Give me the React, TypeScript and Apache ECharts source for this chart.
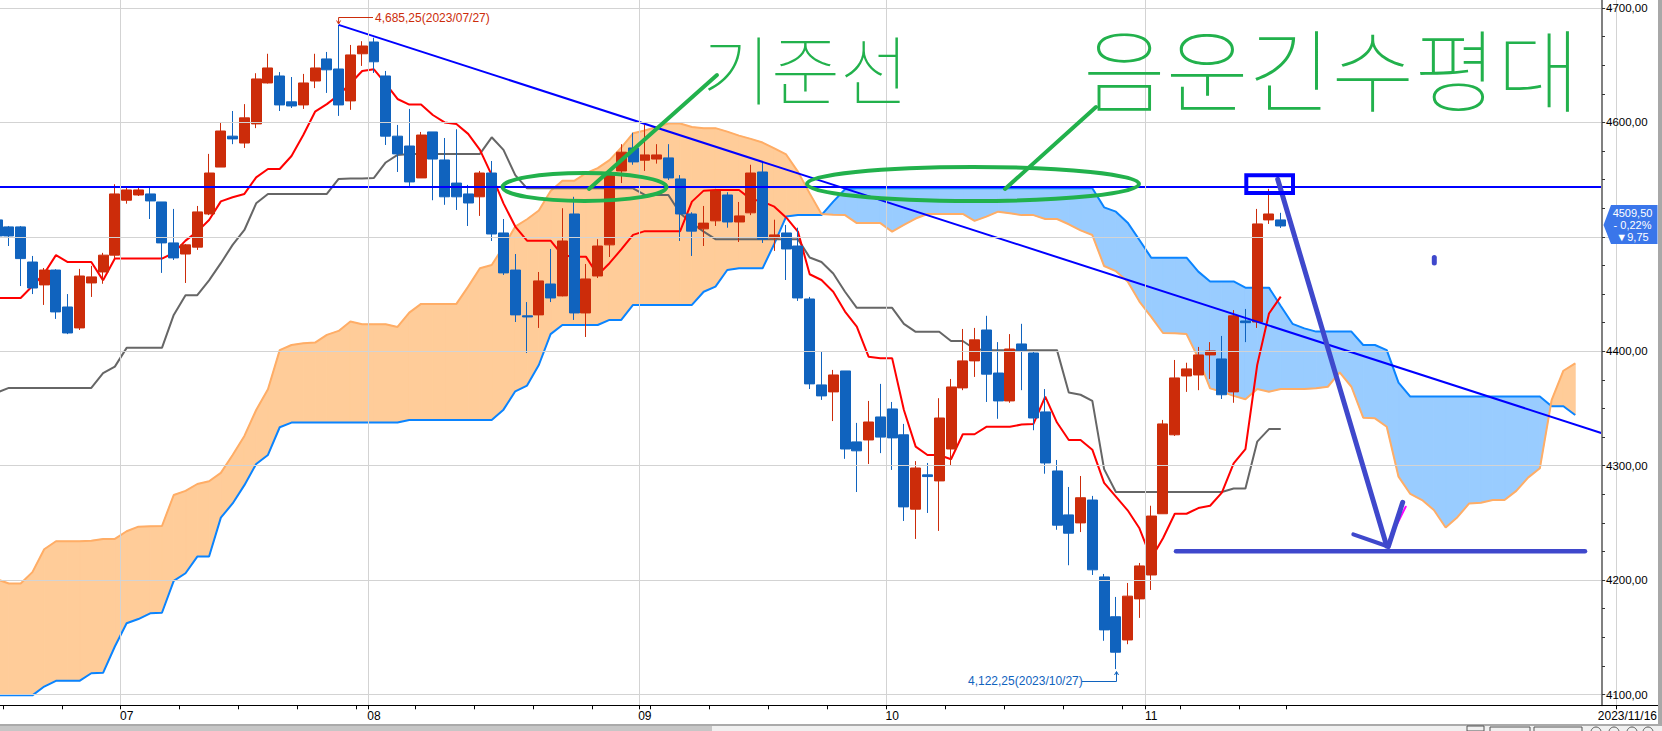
import React, { useEffect, useRef } from "react";
import * as echarts from "echarts";

const highs = [4515,4509.5,4509.5,4483.3,4472.8,4471.7,4450,4472,4474.6,4486,4546,4544,4544,4544,4530.5,4524.4,4493.8,4527,4572.5,4600.4,4610,4616,4643,4660,4644,4639.7,4642.4,4660,4661.6,4685.25,4667.7,4671,4674,4645,4597.8,4611.8,4591.7,4591.7,4586.4,4594,4545.4,4557.6,4566.3,4515.6,4485,4443,4469.3,4489.4,4525,4535,4476.3,4498,4557,4581,4591,4598,4581,4581,4554,4521.5,4527,4542,4539,4530.5,4563,4566.3,4515,4510.4,4508,4447.5,4399.4,4383.7,4382.8,4337.4,4356.6,4371.5,4355.7,4336.5,4304,4302.4,4359,4375.8,4419.5,4420.4,4431,4408,4415,4424,4399.4,4367,4305,4281.4,4291,4273.6,4205.4,4185.3,4197.5,4215,4265,4340,4392.4,4390,4403.8,4408,4413.4,4436,4437,4524.4,4542,4521];
const lows = [4500,4492,4457,4450,4440.5,4428.3,4415,4418.6,4447.5,4459,4481.3,4529,4535.7,4515.6,4468.5,4479.8,4459.7,4488.6,4519,4561,4581,4577.7,4595,4634,4610,4612.6,4611.8,4630,4625.8,4605.7,4611,4649.4,4643.2,4580.3,4556.7,4544.5,4551.5,4532,4528,4523.5,4509.5,4518.3,4496.4,4466.7,4425.6,4398.5,4420.4,4443,4448,4427.4,4412.5,4464,4482.4,4547,4563,4557.6,4564,4549.7,4496.4,4483.3,4492,4509.5,4508,4495.5,4519,4494.7,4487.7,4462.3,4444,4367,4357.5,4339,4306,4277,4301.5,4311,4296.3,4251.7,4236,4258.7,4243,4299.8,4366,4377.6,4355.7,4341,4355,4366,4331,4293,4244,4213,4242,4204.5,4147,4122.25,4144,4167,4191.4,4258,4326,4364.5,4366,4375.8,4358.3,4355,4408,4420.4,4511.3,4507.8];
const opens = [4514.8,4508.7,4508.7,4478,4458,4471,4438.7,4420.4,4459.7,4469.3,4484,4532,4536.6,4537.5,4530.5,4494.7,4485,4491,4520,4561,4588,4582,4598.7,4634.5,4640.6,4618,4615.3,4636.2,4655.5,4646.7,4618.8,4660,4670.3,4640.6,4588,4579.4,4551.5,4591.7,4567.2,4547,4537.5,4535,4555.8,4503.4,4471,4431,4431.8,4458.8,4448.4,4520,4433.5,4465.8,4493,4557.6,4577.7,4567,4568,4569,4550.6,4520,4507,4514,4536.6,4513,4521,4556.7,4499,4503.4,4492,4445.7,4370.6,4364.5,4382.8,4320.8,4322.5,4342.6,4349.6,4327,4262,4292,4286.7,4314.6,4368,4391.6,4418.6,4381,4356.6,4406.4,4398.5,4347,4295.4,4257,4250,4270,4202.8,4168,4147.7,4183.6,4204.5,4258,4327,4378.4,4379.3,4396.8,4393.3,4364.5,4426.5,4425.6,4514.8,4514.8];
const closes = [4500.8,4500.8,4481,4455.3,4471,4434.4,4416,4465.8,4465,4484,4537.5,4541,4541,4531.4,4494.7,4481.6,4493,4521.8,4555.8,4592.5,4585.6,4604,4638,4647.6,4615.3,4614.4,4634.5,4647.6,4646,4615.3,4659,4666.8,4653,4588,4572.5,4548,4589,4568,4535,4535,4529.6,4555.8,4502.5,4468.5,4431.8,4430,4461.5,4446.6,4496.4,4433.5,4463.2,4492,4554,4574,4565.5,4571.6,4571.6,4551.5,4520,4505,4512,4540,4513,4518.3,4555.8,4498,4501.7,4489.4,4446.6,4371.5,4361,4379.3,4314.6,4313,4338.2,4325,4324.3,4264,4298,4290.5,4341.7,4368.8,4391.6,4410,4380,4356.6,4402,4401,4341.7,4302.4,4248,4241,4272,4209,4156.5,4137,4186,4212.4,4256,4336.5,4376.7,4384.6,4396.8,4400.3,4362,4431,4425,4511.3,4520,4509.5];

const tenkan = [4446.6,4446.6,4446.6,4457,4468,4484,4478,4478,4478,4462,4481,4481,4481,4481,4481,4486,4496.7,4504.6,4514.8,4531,4534.6,4537.5,4552,4559.3,4559.3,4570.7,4589,4609.4,4616,4624,4634,4645,4646.4,4634,4620.5,4615.6,4615.6,4606.5,4600,4598.7,4590,4576,4554,4529.3,4509,4496.7,4496.7,4496.7,4484,4482.7,4482.7,4466.7,4477,4489,4501.7,4505,4505,4505,4505,4530.8,4540.4,4541,4541,4541,4533,4530.8,4526.4,4517,4504.6,4467.3,4462.3,4452,4434.7,4421.6,4395.3,4394,4394,4348.7,4316.7,4309.4,4309.4,4305.6,4327.5,4327.5,4334,4334,4334,4336,4336.5,4360.4,4337.7,4322.5,4322.5,4314,4285,4273,4261,4245.3,4219,4236.6,4258,4258,4263,4265,4276.5,4302,4314.4,4388,4433,4447.8];
const kijun = [4364,4368,4368,4368,4368,4368,4368,4368,4368,4380.8,4386.6,4403,4403,4403,4403,4431.8,4449,4449,4462,4477,4493,4506,4529.3,4537.5,4537.5,4537.5,4537.5,4537.5,4537.5,4550.6,4551,4551,4551.5,4565,4571.6,4572.5,4572.5,4572.5,4572.5,4572.5,4572.5,4572.5,4587,4576,4554,4542.4,4542.4,4542.4,4542.4,4542.4,4542.4,4542.4,4542.4,4542.4,4542.4,4536.6,4536.6,4536.6,4520.6,4512,4504.6,4498,4498,4498,4498,4498,4498,4498,4498,4482,4478,4468,4452,4438,4438,4438,4438,4424,4417,4417,4417,4409,4409,4402,4401,4401,4401,4401,4401,4401,4401,4364,4362,4356.6,4297,4277,4277,4277,4277,4277,4277,4277,4277,4277,4277,4280,4280,4321,4332,4332];
const senkouA = [4200.7,4197,4197,4207,4227,4234,4234,4234,4234.5,4236,4236,4242.7,4246.7,4247,4247.3,4274.4,4278,4284,4286.4,4293.7,4309.4,4326,4348.7,4366.8,4401,4405.5,4407,4407.6,4414.3,4417.8,4426,4423.6,4423.6,4423.6,4421.3,4433.8,4441.4,4441.4,4441.4,4441.4,4456.5,4472.5,4475.4,4491.5,4509,4515.4,4523,4540,4549,4549,4555.6,4560,4567,4578,4590.5,4593,4596,4599,4599,4596,4595,4595,4592,4588.5,4585.6,4582.4,4577.4,4572,4557,4538,4520,4519.4,4519,4512,4512,4512,4504.6,4510.4,4516,4520,4520,4520,4520,4514,4517.7,4522,4520.6,4519,4519,4515.6,4515.6,4511,4505.7,4501.6,4474.5,4470,4461,4443.4,4430,4416,4415.7,4415,4394,4367.6,4364.7,4361,4358,4367,4364.7,4367,4367,4367,4367.6,4369,4381.6,4369,4342,4341.4,4334,4290.4,4275.3,4270,4261.3,4246,4255,4267,4267.7,4270,4270,4278,4289.6,4297.7,4357.4,4383,4389.5];
const senkouB = [4099.3,4099.3,4099.3,4099.3,4107,4112,4112,4112,4118.6,4119,4142,4162.3,4166,4171,4171.5,4199.3,4206,4220.6,4220.6,4254.6,4267,4283,4301.5,4309.4,4333.6,4337.7,4337.7,4337.7,4337.7,4337.7,4337.7,4337.7,4337.7,4337.7,4337.7,4340,4340,4340,4340,4340,4340,4340,4340,4349,4365,4370,4388,4415,4423,4423,4423,4423,4427.4,4427.4,4440.5,4440.5,4440.5,4440.5,4440.5,4440.5,4452,4456.5,4471,4472.5,4472.5,4472.5,4494,4517.7,4519,4519,4519,4530.8,4541.6,4542.4,4542.4,4542.4,4542.4,4542.4,4542.4,4542.4,4542.4,4542.4,4542.4,4542.4,4542.4,4542.4,4542.4,4542.4,4542.4,4542.4,4542.4,4542.4,4542.4,4542.4,4525.8,4522,4512.4,4497.3,4481.8,4481.8,4481.8,4481.8,4469.6,4461,4461,4461,4455.6,4455.6,4455.6,4439.6,4424,4420,4417.2,4417.2,4417.2,4417.2,4405.5,4405.5,4401,4372.6,4360.4,4360.4,4360.4,4360.4,4360.4,4360.4,4360.4,4360.4,4360.4,4360.4,4360.4,4360.4,4352,4352,4344.3];

const monthLabels: Record<number, string> = { 11: "07", 32: "08", 55: "09", 76: "10", 98: "11" };
const weekTicks = [1,6,11,16,21,26,31,32,36,41,46,51,55,56,61,66,71,76,81,86,91,96,98,101,106,110];
const priceLabels = [4100,4200,4300,4400,4600,4700];
const priceGrid = [4100,4200,4300,4400,4500,4600,4700];
const priceTicks = [4100,4125,4150,4175,4200,4225,4250,4275,4300,4325,4350,4375,4400,4425,4450,4475,4500,4525,4550,4575,4600,4625,4650,4675,4700];
const resistance = 4543.6;
const trendStart = { bar: 29, value: 4685.25 };
const trendEnd = { bar: 137, value: 4326 };
const BAR_SLOTS = 138;

const RED = "#CC2C0A", BLUE = "#1063BE", GREEN = "#22B14C", PURPLE = "#3F48CC";
const sans = '"Liberation Sans",Arial,sans-serif';
const hand = '"Noto Sans CJK KR"';
const categories = Array.from({ length: BAR_SLOTS }, (_, i) => monthLabels[i] ?? String(i));
const cloudData = senkouA.slice(0, -1).map((a, i) => [i, a, senkouB[i], senkouA[i + 1], senkouB[i + 1]]);

function cloudItem(_: any, api: any) {
  const i = api.value(0);
  const a0 = api.coord([i, api.value(1)]), b0 = api.coord([i, api.value(2)]);
  const a1 = api.coord([i + 1, api.value(3)]), b1 = api.coord([i + 1, api.value(4)]);
  const d0 = api.value(1) - api.value(2), d1 = api.value(3) - api.value(4);
  const poly = (pts: number[][], up: boolean) => {
    const c = up ? "#FFCC99" : "#99CCFF";
    return { type: "polygon", shape: { points: pts }, style: { fill: c, stroke: c, lineWidth: 1 } };
  };
  if (d0 * d1 < 0) {
    const t = d0 / (d0 - d1);
    const m = [a0[0] + t * (a1[0] - a0[0]), a0[1] + t * (a1[1] - a0[1])];
    return { type: "group", children: [poly([a0, m, b0], d0 > 0), poly([m, a1, b1], d1 > 0)] };
  }
  return { type: "group", children: [poly([a0, a1, b1, b0], d0 + d1 >= 0)] };
}

const ink = (x1: number, y1: number, x2: number, y2: number, stroke: string, lineWidth: number) => ({
  type: "line", z: 50, shape: { x1, y1, x2, y2 }, style: { stroke, lineWidth, lineCap: "round" },
});

function buildGraphic() {
  const txt = (x: number, y: number, text: string, fill: string, fontSize: number, align = "left", extra: any = {}) => ({
    type: "text", z: 60, x, y,
    style: { text, fill, fontSize, fontFamily: sans, align, verticalAlign: "middle", ...extra },
  });
  return [
    { type: "rect", z: 8, shape: { x: 1603, y: 0, width: 59, height: 724 }, style: { fill: "#fff" } },
    { type: "rect", z: 40, shape: { x: 1658, y: 0, width: 4, height: 726 }, style: { fill: "#A8A8A8" } },
    { type: "line", z: 40, shape: { x1: 1602, y1: 705.5, x2: 1658, y2: 705.5 }, style: { stroke: "#000", lineWidth: 1 } },
    { type: "rect", z: 40, shape: { x: 0, y: 724, width: 1662, height: 2 }, style: { fill: "#AAAAAA" } },
    { type: "rect", z: 40, shape: { x: 0, y: 726, width: 712, height: 5 }, style: { fill: "#C6C6C6" } },
    { type: "rect", z: 40, shape: { x: 712, y: 726, width: 950, height: 5 }, style: { fill: "#F0F0F0" } },
    { type: "rect", z: 41, shape: { x: 1467, y: 726, width: 17, height: 5 }, style: { fill: "#F0F0F0", stroke: "#555", lineWidth: 1 } },
    { type: "rect", z: 41, shape: { x: 1490, y: 727, width: 40, height: 6 }, style: { fill: "#F0F0F0", stroke: "#555", lineWidth: 1 } },
    { type: "rect", z: 41, shape: { x: 1534, y: 727, width: 48, height: 6 }, style: { fill: "#F0F0F0", stroke: "#555", lineWidth: 1 } },
    ...[1596, 1614, 1632, 1648].map((cx) => ({ type: "circle", z: 41, shape: { cx, cy: 732, r: 5 }, style: { fill: "#F0F0F0", stroke: "#555", lineWidth: 1 } })),

    // green marker notes
    { type: "ellipse", z: 50, shape: { cx: 584.5, cy: 187, rx: 82, ry: 14 }, style: { fill: "transparent", stroke: GREEN, lineWidth: 4 } },
    { type: "ellipse", z: 50, shape: { cx: 973, cy: 184, rx: 166, ry: 17 }, style: { fill: "transparent", stroke: GREEN, lineWidth: 4 } },
    ink(589, 189, 717, 75, GREEN, 4),
    ink(1005, 189, 1096, 107, GREEN, 4),
    txt(702, 66, "기준선", GREEN, 75, "left", { fontFamily: hand, fontWeight: 100 }),
    txt(1083, 66, "음운긴수평대", GREEN, 90, "left", { fontFamily: hand, fontWeight: 100 }),

    // purple arrow notes
    ink(1405.7, 506.7, 1386.7, 545, "#FF00FF", 2),
    ink(1277.7, 179.3, 1386.7, 546, PURPLE, 5),
    ink(1353.3, 534.3, 1386.7, 546, PURPLE, 4),
    ink(1402.7, 502.3, 1388.3, 546.7, PURPLE, 5),
    ink(1176, 551.3, 1585, 551.3, PURPLE, 4.5),
    ink(1434.3, 257.5, 1434.3, 263, PURPLE, 5),
    { type: "rect", z: 50, shape: { x: 1246.3, y: 175.3, width: 46.7, height: 17.7 }, style: { fill: "transparent", stroke: "#0000FF", lineWidth: 4 } },

    // high and low callouts
    { type: "polyline", z: 45, shape: { points: [[373, 17.5], [338.6, 17.5], [338.6, 23]] }, style: { fill: "none", stroke: RED, lineWidth: 1 } },
    { type: "polyline", z: 45, shape: { points: [[336.6, 20.5], [338.6, 24], [340.6, 20.5]] }, style: { fill: "none", stroke: RED, lineWidth: 1 } },
    txt(375, 17.5, "4,685,25(2023/07/27)", RED, 12),
    { type: "polyline", z: 45, shape: { points: [[1082, 681.5], [1116.5, 681.5], [1116.5, 672]] }, style: { fill: "none", stroke: BLUE, lineWidth: 1 } },
    { type: "polyline", z: 45, shape: { points: [[1114.5, 675], [1116.5, 671.5], [1118.5, 675]] }, style: { fill: "none", stroke: BLUE, lineWidth: 1 } },
    txt(968, 680.5, "4,122,25(2023/10/27)", BLUE, 12),

    // last price tag
    { type: "polygon", z: 55, shape: { points: [[1603.5, 225], [1611, 205], [1657.5, 205], [1657.5, 244], [1611, 244]] }, style: { fill: "#3A76EA" } },
    txt(1632.5, 212.5, "4509,50", "#fff", 11, "center"),
    txt(1632.5, 224.5, "- 0,22%", "#fff", 11, "center"),
    txt(1632.5, 236.5, "▼9,75", "#fff", 11, "center"),

    txt(1657, 715.5, "2023/11/16", "#000", 12, "right"),
  ];
}

function buildOption() {
  const yBase = { type: "value", min: 4090.6, max: 4707, position: "right", offset: -14.4, z: 10, scale: true };
  const line = (name: string, data: number[], color: string, z: number, width = 2) => ({
    name, type: "line", data, z, showSymbol: false, symbol: "none", silent: true, smooth: false,
    lineStyle: { color, width }, itemStyle: { color },
  });
  return {
    animation: false,
    backgroundColor: "#fff",
    tooltip: { show: false },
    legend: { show: false },
    grid: { left: -8.8, top: 0, height: 705.3, width: 1625.2, containLabel: false, outerBoundsMode: "none" },
    xAxis: {
      type: "category", data: categories, boundaryGap: true, z: 10,
      axisLine: { lineStyle: { color: "#000", width: 1 } },
      axisTick: { show: true, length: 4, interval: (i: number) => weekTicks.includes(i), lineStyle: { color: "#000" } },
      axisLabel: {
        interval: (i: number) => i in monthLabels, color: "#000", fontFamily: sans, fontSize: 12, margin: 5,
        hideOverlap: false,
      },
      splitLine: { show: true, interval: (i: number) => i in monthLabels, lineStyle: { color: "#D3D3D3", width: 1 } },
    },
    yAxis: [
      {
        ...yBase,
        axisLine: { show: true, onZero: false, lineStyle: { color: "#808080", width: 2 } },
        axisTick: { show: true, length: 3, customValues: priceGrid, lineStyle: { color: "#000" } },
        axisLabel: {
          show: true, customValues: priceLabels, color: "#000", fontFamily: sans, fontSize: 11.5, margin: 4,
          formatter: (v: number) => v.toFixed(2).replace(".", ","),
        },
        splitLine: { show: true, lineStyle: { color: "#D3D3D3", width: 1 } },
      },
      {
        ...yBase,
        axisLine: { show: false },
        axisTick: { show: true, length: 3, customValues: priceTicks, lineStyle: { color: "#333" } },
        axisLabel: { show: false },
        splitLine: { show: false },
      },
    ],
    series: [
      { name: "cloud", type: "custom", z: 1, silent: true, renderItem: cloudItem, data: cloudData, encode: { x: 0, y: [1, 2, 3, 4] } },
      line("선행스팬2", senkouB, "#0A84FF", 2),
      line("선행스팬1", senkouA, "#FFAD66", 2),
      line("기준선", kijun, "#666666", 3),
      line("전환선", tenkan, "#FF0000", 3),
      {
        name: "price", type: "candlestick", z: 4, barWidth: 10.5, silent: true,
        data: opens.map((o, i) => [o, closes[i], lows[i], highs[i]]),
        itemStyle: { color: RED, color0: BLUE, borderColor: RED, borderColor0: BLUE, borderWidth: 1 },
      },
      {
        name: "trend", type: "line", data: [], z: 6, silent: true,
        markLine: {
          silent: true, symbol: "none", animation: false, label: { show: false },
          lineStyle: { color: "#0000FF", width: 2, type: "solid" },
          data: [
            { yAxis: resistance },
            [{ coord: [trendStart.bar, trendStart.value] }, { coord: [trendEnd.bar, trendEnd.value] }],
          ],
        },
      },
    ],
    graphic: buildGraphic(),
  };
}

export default function App() {
  const ref = useRef<HTMLDivElement>(null);
  useEffect(() => {
    document.body.style.margin = "0";
    document.body.style.background = "#fff";
    const chart = echarts.init(ref.current!, undefined, { renderer: "svg" });
    chart.setOption(buildOption() as any);
    return () => chart.dispose();
  }, []);
  return <div ref={ref} style={{ width: 1662, height: 731, overflow: "hidden" }} />;
}
